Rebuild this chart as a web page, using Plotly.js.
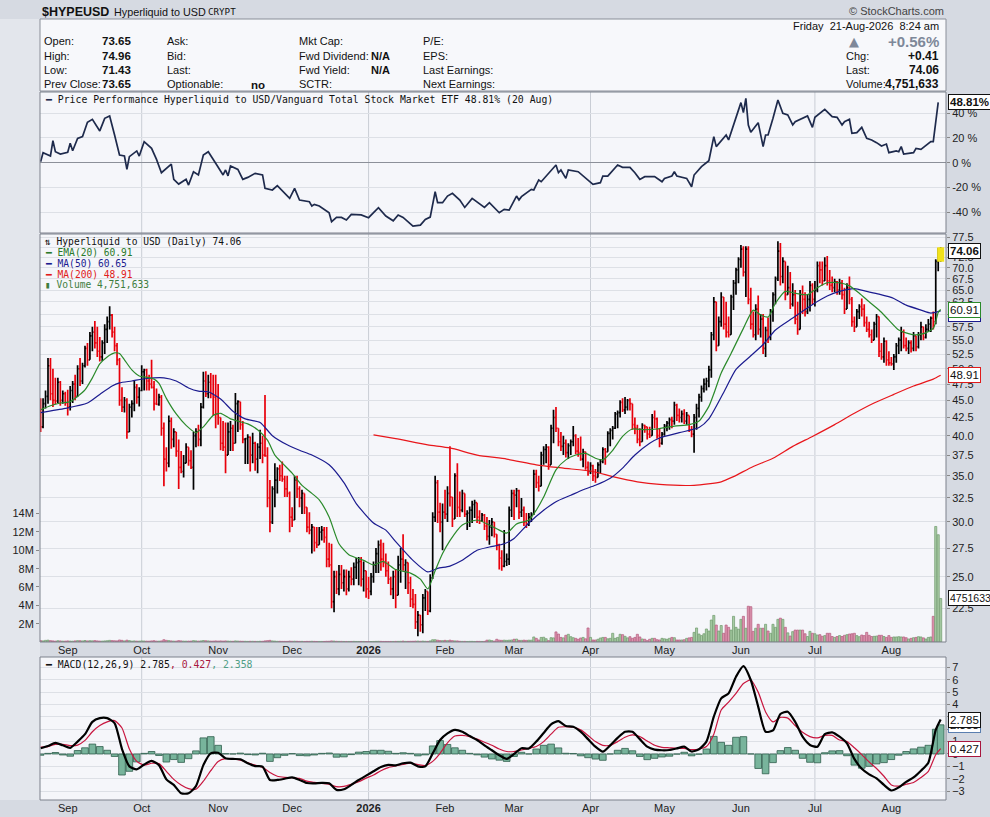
<!DOCTYPE html>
<html><head><meta charset="utf-8">
<script src="https://cdn.plot.ly/plotly-3.0.1.min.js"></script>
<style>html,body{margin:0;padding:0;background:#d6dae2;}#chart{width:990px;height:817px;}</style>
</head><body><div id="chart"></div>
<script>
// ---------------- DATA (daily bars from 21-Aug-2025, index = day offset) ----------------
const openP = [
44.0,41.2,44.5,45.6,50.5,46.0,45.0,44.9,47.8,45.0,
46.0,44.6,44.0,46.5,47.5,45.6,50.0,48.0,50.5,53.5,
51.5,55.8,56.5,54.5,53.0,52.0,54.5,57.0,58.5,59.8,
56.5,54.0,51.5,45.0,44.0,45.0,40.5,44.0,44.5,47.0,
45.5,46.5,49.5,49.8,48.0,47.5,47.0,44.5,44.4,45.5,
41.0,37.0,36.5,42.0,39.5,40.5,38.0,36.0,35.5,36.5,
38.5,36.8,36.0,40.0,40.5,39.5,44.0,48.0,46.0,47.8,
46.0,45.5,43.0,42.5,39.0,38.5,37.5,40.5,41.0,39.0,
44.5,44.8,41.5,39.5,39.6,39.8,37.5,39.0,37.0,38.5,
39.0,37.5,37.4,32.5,30.0,33.5,34.5,35.8,35.0,34.6,
33.5,33.0,30.5,30.2,34.5,33.5,32.5,33.0,31.5,29.5,
29.2,29.5,28.0,27.8,29.0,29.2,28.5,26.5,26.0,23.0,
25.0,24.0,25.2,24.5,25.0,24.0,25.0,24.8,25.8,26.2,
26.3,24.8,25.5,24.0,23.8,25.0,26.0,27.0,27.8,26.5,
26.2,25.5,24.8,24.0,25.0,23.5,26.0,26.5,26.0,26.2,
24.5,23.2,22.8,21.5,22.0,21.3,23.3,23.8,22.3,24.9,
30.5,34.2,31.0,30.0,31.0,30.8,33.0,32.6,30.3,35.0,
31.5,31.2,33.0,30.8,30.9,31.2,31.8,32.0,30.5,30.1,
30.7,29.6,28.6,29.5,30.0,28.8,27.8,26.6,25.9,26.3,
26.5,31.2,33.0,32.8,33.3,31.0,31.2,30.0,29.8,30.5,
30.8,35.2,34.2,33.8,37.5,38.2,38.5,36.3,41.0,42.5,
41.0,39.2,38.6,39.0,37.8,38.7,39.2,40.0,38.0,37.8,
37.0,37.9,36.0,35.5,36.2,35.0,34.8,36.3,36.7,38.2,
37.9,40.3,40.7,41.0,43.0,43.2,44.7,43.6,44.0,45.0,
44.5,41.5,41.0,39.5,39.2,41.4,41.2,40.2,40.0,42.5,
42.3,40.0,39.0,40.2,41.3,41.7,42.2,42.0,44.3,42.8,
42.5,43.0,42.0,42.8,40.8,40.2,42.5,43.8,45.5,46.8,
47.5,48.0,49.8,56.0,62.5,54.0,58.5,63.5,58.0,56.5,
56.0,63.5,66.5,69.5,72.0,74.5,69.0,74.5,63.0,58.0,
56.0,61.0,57.0,59.0,53.5,56.8,55.5,60.5,64.0,67.5,
74.0,68.0,71.5,64.0,65.5,62.0,64.0,59.0,57.0,64.0,
63.0,60.5,63.0,66.0,63.0,65.0,70.5,69.5,67.0,70.5,
67.0,66.0,65.5,66.8,65.0,66.5,64.0,61.0,65.5,63.0,
58.5,57.5,60.5,61.5,61.0,58.3,57.0,56.0,55.0,58.0,
59.5,53.0,52.0,54.8,51.5,51.0,50.8,52.0,54.0,55.0,
56.5,54.0,53.5,54.5,53.5,55.8,53.8,56.0,57.5,55.5,
57.0,58.0,59.2,58.5,71.5,73.65];
const highP = [
45.3,45.3,46.5,51.8,51.8,50.0,48.5,48.5,48.0,46.5,
46.3,46.6,47.2,48.0,49.0,50.6,51.8,51.0,54.0,54.5,
56.5,57.5,58.6,57.5,55.6,55.0,58.0,59.5,61.6,60.0,
57.5,54.5,51.8,47.0,45.5,45.3,44.5,45.0,48.0,47.5,
47.0,50.6,50.0,50.0,49.0,51.5,48.0,46.8,46.0,45.8,
41.8,38.5,42.8,42.5,41.0,40.5,39.5,38.0,37.5,39.0,
38.5,38.1,40.5,41.0,41.5,44.6,49.5,49.6,49.0,49.3,
49.0,49.0,47.5,42.5,42.0,41.8,41.8,42.0,41.5,46.1,
45.0,44.8,42.0,39.7,40.2,39.9,40.4,39.2,39.0,40.8,
40.0,45.8,38.5,34.5,33.8,36.5,36.0,36.3,36.7,35.0,
35.0,33.2,31.5,35.0,35.0,33.8,33.4,33.0,31.5,31.0,
29.8,29.5,29.5,29.5,29.6,29.5,29.5,28.0,27.9,25.5,
25.5,26.0,26.0,25.6,25.6,25.5,25.8,26.2,26.6,26.7,
26.7,26.3,25.5,25.0,25.3,26.3,27.5,28.2,28.3,28.0,
27.0,26.3,25.0,25.5,25.6,26.8,27.5,28.8,26.5,26.2,
25.0,24.0,23.6,22.3,22.0,23.6,24.0,23.8,25.2,31.0,
35.0,34.5,32.0,31.9,33.4,33.8,38.6,32.6,35.3,36.5,
33.2,33.4,33.0,31.2,31.6,32.2,32.3,32.0,31.2,30.9,
30.8,30.5,30.2,30.4,30.0,28.8,27.9,27.3,29.2,27.0,
31.6,33.4,33.4,33.6,33.4,32.5,31.6,30.9,30.9,31.0,
35.7,35.7,35.0,37.9,38.6,38.9,38.6,41.5,43.6,44.0,
41.0,40.5,40.0,39.5,39.0,39.5,41.3,40.2,39.7,39.9,
38.3,37.9,36.7,36.6,36.3,35.8,36.6,37.0,38.5,38.4,
40.6,41.0,41.3,43.3,43.5,45.0,45.3,45.5,45.2,45.3,
44.5,42.5,41.5,41.0,41.7,41.5,41.2,41.2,43.0,43.5,
42.5,41.0,40.5,41.6,42.0,42.5,42.6,44.8,44.5,43.8,
43.5,43.7,43.3,42.8,41.3,43.0,44.5,46.0,47.3,48.4,
48.5,50.5,56.5,63.5,62.5,59.5,64.5,63.5,62.5,59.5,
64.0,67.2,70.0,72.5,75.5,75.2,75.2,75.2,65.5,60.5,
62.0,63.8,60.0,60.0,57.5,59.3,61.0,64.5,68.0,76.5,
76.0,72.5,71.5,70.5,69.0,66.5,65.0,62.5,65.0,66.0,
64.5,64.0,67.0,66.5,67.0,71.5,71.5,71.5,72.5,72.8,
69.5,68.0,67.5,67.0,67.5,67.2,65.5,66.5,68.0,63.5,
59.5,61.0,62.0,63.2,62.0,59.5,58.5,57.0,58.5,60.0,
59.5,54.5,55.5,55.0,53.0,52.0,52.5,54.5,55.5,57.5,
57.0,55.5,55.0,55.0,56.5,55.8,56.5,58.5,57.5,58.0,
59.0,59.5,60.5,72.0,74.8,74.96];
const lowP = [
40.5,41.0,43.8,44.5,45.0,44.0,44.4,44.6,44.2,44.5,
44.2,42.8,43.5,44.6,45.0,45.5,47.2,47.5,50.2,50.5,
51.5,53.0,53.5,52.0,51.2,51.3,52.5,54.5,57.0,55.5,
53.0,50.6,44.2,43.3,43.2,39.6,40.5,42.5,43.4,44.5,
44.1,46.4,46.5,46.5,46.5,46.8,43.5,44.3,44.2,40.0,
33.8,35.5,36.0,38.3,38.5,37.3,33.5,35.3,34.8,36.5,
36.2,35.8,33.4,38.5,38.6,38.6,43.8,45.5,45.3,45.3,
42.8,41.0,41.5,38.1,38.0,35.3,37.5,38.0,38.0,39.0,
40.5,40.8,39.0,36.4,36.4,35.5,36.5,35.6,35.3,37.0,
36.5,37.3,31.5,29.0,29.8,31.5,33.0,34.4,34.3,32.6,
32.6,29.0,29.5,30.2,32.5,31.5,30.8,30.8,29.0,28.8,
27.0,27.2,27.5,27.8,28.2,28.0,25.8,25.8,22.5,22.2,
23.6,23.5,24.0,23.8,23.5,23.8,24.3,24.3,24.8,24.3,
24.2,23.8,23.3,23.2,23.5,24.5,25.3,25.3,25.5,25.8,
25.0,24.4,23.5,23.2,22.5,23.5,24.5,25.5,24.0,23.6,
22.6,22.5,21.0,20.5,20.8,20.7,22.3,22.0,22.2,24.8,
30.0,29.9,29.0,27.3,30.3,30.0,31.6,29.5,30.3,30.5,
30.5,31.0,30.5,29.2,29.5,29.9,30.4,29.9,29.8,30.0,
29.2,28.2,27.8,28.6,28.5,27.3,25.6,25.5,25.8,25.9,
26.0,30.5,30.2,31.5,30.3,30.5,29.6,29.4,29.6,30.0,
30.7,33.6,33.2,33.8,36.3,36.5,35.7,36.3,39.0,40.5,
38.6,38.0,37.5,37.2,37.0,37.5,38.6,37.6,37.3,36.8,
36.0,35.7,35.0,35.2,34.4,34.2,34.8,35.3,36.5,36.3,
37.9,38.6,39.5,40.9,41.0,42.5,43.3,43.0,43.5,43.5,
40.8,40.2,39.0,38.6,39.2,40.4,39.5,39.7,40.0,41.0,
39.6,38.5,38.8,40.0,40.6,40.8,41.0,41.5,42.0,41.8,
41.8,41.6,41.5,40.5,39.8,37.8,40.8,42.5,44.8,46.2,
46.5,47.0,48.5,55.0,53.0,54.0,57.5,57.0,55.5,55.5,
56.0,60.8,64.0,66.5,70.0,68.0,63.5,62.0,57.0,55.5,
55.0,56.0,55.5,52.5,52.0,54.5,55.0,58.5,62.0,67.0,
66.0,66.5,62.8,64.0,61.0,61.5,58.0,56.0,57.0,60.0,
59.5,60.0,60.5,62.0,61.5,64.5,66.5,66.0,67.0,66.0,
65.0,64.5,64.5,64.0,64.0,63.0,60.0,61.0,62.0,57.5,
56.5,57.5,59.0,59.5,57.5,56.5,55.5,54.5,55.0,55.5,
52.0,51.5,51.0,50.5,50.5,50.5,49.8,51.0,52.5,53.0,
53.5,53.0,52.5,52.8,53.0,53.0,53.5,55.0,55.0,55.3,
56.5,56.5,57.0,58.0,69.2,71.43];
const closeP = [
41.2,44.5,45.6,50.5,46.0,45.0,44.9,47.8,45.0,46.0,
44.6,44.0,46.5,47.5,45.6,50.0,48.0,50.5,53.5,51.5,
55.8,56.5,54.5,53.0,52.0,54.5,57.0,58.5,59.8,56.5,
54.0,51.5,45.0,44.0,45.0,40.5,44.0,44.5,47.0,45.5,
46.5,49.5,49.8,48.0,47.5,47.0,44.5,44.4,45.5,41.0,
37.0,36.5,42.0,39.5,40.5,38.0,36.0,35.5,36.5,38.5,
36.8,36.0,40.0,40.5,39.5,44.0,48.0,46.0,47.8,46.0,
45.5,43.0,42.5,39.0,38.5,37.5,40.5,41.0,39.0,44.5,
44.8,41.5,39.5,39.6,39.8,37.5,39.0,37.0,38.5,39.0,
37.5,37.4,32.5,30.0,33.5,34.5,35.8,35.0,34.6,33.5,
33.0,30.5,30.2,34.5,33.5,32.5,33.0,31.5,29.5,29.2,
29.5,28.0,27.8,29.0,29.2,28.5,26.5,26.0,23.0,25.0,
24.0,25.2,24.5,25.0,24.0,25.0,24.8,25.8,26.2,26.3,
24.8,25.5,24.0,23.8,25.0,26.0,27.0,27.8,26.5,26.2,
25.5,24.8,24.0,25.0,23.5,26.0,26.5,26.0,26.2,24.5,
23.2,22.8,21.5,22.0,21.3,23.3,23.8,22.3,24.9,30.5,
34.2,31.0,30.0,31.0,30.8,33.0,32.6,30.3,35.0,31.5,
31.2,33.0,30.8,30.9,31.2,31.8,32.0,30.5,30.1,30.7,
29.6,28.6,29.5,30.0,28.8,27.8,26.6,25.9,26.3,26.5,
31.2,33.0,32.8,33.3,31.0,31.2,30.0,29.8,30.5,30.8,
35.2,34.2,33.8,37.5,38.2,38.5,36.3,41.0,42.5,41.0,
39.2,38.6,39.0,37.8,38.7,39.2,40.0,38.0,37.8,37.0,
37.9,36.0,35.5,36.2,35.0,34.8,36.3,36.7,38.2,37.9,
40.3,40.7,41.0,43.0,43.2,44.7,43.6,44.0,45.0,44.5,
41.5,41.0,39.5,39.2,41.4,41.2,40.2,40.0,42.5,42.3,
40.0,39.0,40.2,41.3,41.7,42.2,42.0,44.3,42.8,42.5,
43.0,42.0,42.8,40.8,40.2,42.5,43.8,45.5,46.8,47.5,
48.0,49.8,56.0,62.5,54.0,58.5,63.5,58.0,56.5,56.0,
63.5,66.5,69.5,72.0,74.5,69.0,74.5,63.0,58.0,56.0,
61.0,57.0,59.0,53.5,56.8,55.5,60.5,64.0,67.5,74.0,
68.0,71.5,64.0,65.5,62.0,64.0,59.0,57.0,64.0,63.0,
60.5,63.0,66.0,63.0,65.0,70.5,69.5,67.0,70.5,67.0,
66.0,65.5,66.8,65.0,66.5,64.0,61.0,65.5,63.0,58.5,
57.5,60.5,61.5,61.0,58.3,57.0,56.0,55.0,58.0,59.5,
53.0,52.0,54.8,51.5,51.0,50.8,52.0,54.0,55.0,56.5,
54.0,53.5,54.5,53.5,55.8,53.8,56.0,57.5,55.5,57.0,
58.0,59.2,58.5,71.5,73.65,74.06];
// volume in millions
const volumeM = [
0.15,0.12,0.18,0.2,0.15,0.12,0.1,0.14,0.12,0.1,
0.1,0.12,0.1,0.09,0.12,0.15,0.14,0.12,0.16,0.12,
0.14,0.13,0.15,0.12,0.1,0.1,0.12,0.14,0.18,0.15,
0.14,0.12,0.22,0.18,0.12,0.2,0.15,0.1,0.12,0.1,
0.1,0.12,0.11,0.1,0.09,0.12,0.14,0.1,0.09,0.12,
0.25,0.18,0.15,0.12,0.1,0.1,0.15,0.12,0.1,0.09,
0.1,0.1,0.15,0.12,0.1,0.12,0.16,0.14,0.12,0.1,
0.1,0.12,0.1,0.12,0.1,0.12,0.1,0.09,0.08,0.12,
0.1,0.09,0.08,0.08,0.07,0.08,0.08,0.07,0.07,0.08,
0.08,0.12,0.15,0.18,0.12,0.1,0.08,0.08,0.07,0.07,
0.07,0.1,0.08,0.09,0.08,0.07,0.07,0.06,0.07,0.07,
0.08,0.07,0.06,0.06,0.06,0.06,0.08,0.08,0.12,0.1,
0.08,0.07,0.07,0.06,0.06,0.06,0.06,0.07,0.06,0.06,
0.06,0.06,0.05,0.05,0.05,0.06,0.07,0.08,0.07,0.06,
0.06,0.06,0.06,0.06,0.07,0.07,0.08,0.1,0.07,0.07,
0.08,0.08,0.1,0.1,0.08,0.1,0.08,0.07,0.12,0.25,
0.25,0.2,0.15,0.15,0.18,0.15,0.2,0.15,0.12,0.12,
0.08,0.07,0.07,0.06,0.07,0.07,0.06,0.07,0.07,0.06,
0.07,0.2,0.22,0.15,0.1,0.3,0.2,0.18,0.2,0.18,
0.2,0.22,0.3,0.32,0.18,0.18,0.2,0.18,0.2,0.2,
0.55,0.4,0.22,0.5,0.52,0.36,0.15,0.47,0.45,1.1,
0.87,0.5,0.45,0.73,0.84,0.58,0.47,0.4,0.3,0.44,
0.5,0.35,1.53,0.5,0.22,0.22,0.3,0.44,0.5,0.5,
0.35,0.4,0.95,0.4,0.5,0.84,0.8,0.62,0.45,0.58,
0.4,0.5,0.84,0.55,0.33,0.3,0.15,0.3,0.4,0.4,
0.25,0.22,0.4,0.35,0.3,0.4,0.5,0.47,0.22,0.22,
0.22,0.25,0.4,0.45,0.5,1.05,1.53,0.87,0.7,0.9,
1.42,1.2,2.4,2.9,1.85,1.2,1.8,0.95,1.85,1.6,
1.3,2.8,1.6,1.4,2.47,2.8,1.5,3.9,3.85,1.16,
1.5,1.93,1.5,1.5,1.93,1.2,0.95,1.93,1.6,2.47,
2.6,2.47,1.6,1.0,0.65,1.13,1.3,1.3,1.3,1.3,
0.9,0.6,1.16,0.95,0.9,0.76,0.8,0.62,0.7,0.95,
0.95,0.6,0.5,0.6,0.7,0.6,0.73,0.8,0.87,0.9,
0.95,0.7,0.58,0.76,0.7,1.05,0.73,0.6,0.62,0.65,
0.73,0.73,0.6,0.5,0.7,0.5,0.55,0.55,0.58,0.55,
0.55,0.47,0.33,0.4,0.47,0.5,0.58,0.55,0.45,0.33,
0.5,0.55,2.8,12.6,11.7,4.75];

// [day offset, value] samples
const ema20Points = [[0,43.6],[4,44.2],[8,44.6],[12,44.8],[15,45.6],[18,46.6],[21,48.5],[24,50.8],[27,52.0],[30,52.7],[32,52.6],[34,51.5],[37,49.8],[40,48.8],[43,48.6],[46,48.3],[48,47.6],[51,45.3],[55,43.0],[59,41.4],[63,40.4],[66,41.2],[70,42.8],[73,43.1],[77,42.3],[81,41.9],[84,41.6],[88,40.8],[92,39.4],[95,37.5],[98,36.5],[102,35.3],[106,33.9],[110,33.0],[113,32.3],[117,30.5],[121,27.9],[125,26.9],[131,26.4],[135,26.0],[139,26.3],[144,25.6],[150,25.3],[154,24.8],[157,24.0],[160,25.5],[163,27.0],[166,28.2],[171,29.7],[177,30.2],[182,29.7],[186,29.2],[189,28.9],[193,29.8],[198,30.2],[201,31.2],[204,32.6],[209,35.7],[213,36.9],[217,37.5],[221,37.7],[225,37.1],[228,36.9],[232,38.1],[236,39.9],[240,40.9],[245,40.8],[250,40.9],[257,41.3],[263,41.5],[267,42.0],[271,44.1],[273,46.0],[276,49.3],[280,52.6],[285,57.2],[289,60.8],[292,59.8],[295,59.4],[298,62.2],[302,64.7],[306,64.3],[311,64.0],[315,65.5],[319,66.6],[324,66.6],[328,65.9],[332,64.3],[336,62.5],[340,60.8],[344,58.8],[348,56.9],[354,56.0],[358,56.2],[362,57.2],[364,60.3],[365,60.91]];
const ma50Points = [[0,43.2],[10,43.8],[19,44.6],[24,45.9],[29,47.2],[32,47.7],[37,48.0],[43,48.4],[50,48.5],[55,48.0],[60,46.9],[64,46.4],[68,46.3],[73,45.2],[78,43.4],[83,42.3],[89,41.8],[94,40.0],[100,38.8],[105,38.1],[110,37.5],[117,36.3],[123,34.2],[128,31.9],[135,29.9],[140,29.2],[144,28.1],[151,26.4],[157,25.4],[161,25.7],[166,25.9],[171,26.4],[177,27.3],[182,27.6],[188,27.9],[192,28.4],[198,29.9],[204,31.2],[209,32.1],[215,32.8],[220,33.4],[225,33.9],[231,34.7],[236,35.9],[241,37.5],[247,39.0],[251,39.7],[259,40.4],[267,41.1],[271,42.3],[277,46.2],[282,49.9],[288,52.2],[293,54.2],[298,56.9],[305,59.2],[312,61.6],[319,63.7],[324,64.7],[330,65.3],[335,64.7],[340,64.1],[346,63.2],[351,61.8],[357,60.8],[361,60.2],[365,60.65]];
const ma200Points = [[135,40.1],[144,39.6],[157,38.8],[166,38.4],[177,37.5],[189,37.0],[201,36.3],[212,35.9],[224,35.5],[232,34.9],[242,34.3],[251,34.0],[265,33.9],[276,34.3],[281,34.9],[289,36.1],[297,37.1],[305,38.6],[313,39.9],[322,41.5],[330,43.1],[338,44.6],[346,45.9],[354,47.2],[362,48.3],[365,48.91]];
const perfPoints = [[0,0.8],[1,8.1],[4,5.4],[5,17.8],[6,8.9],[8,7.0],[11,8.4],[12,15.7],[13,9.7],[15,19.7],[17,21.1],[19,32.7],[21,35.1],[24,25.7],[26,35.9],[28,37.8],[30,22.4],[32,6.2],[34,5.4],[35,-5.4],[36,4.9],[39,9.5],[40,5.4],[42,17.0],[45,11.6],[46,7.0],[47,2.7],[49,-8.1],[53,-1.1],[54,-13.5],[56,-17.3],[59,-13.5],[60,-18.1],[62,-7.3],[64,-9.9],[66,6.2],[68,8.9],[71,-0.5],[74,-9.9],[75,-5.9],[76,-10.7],[77,-2.7],[80,-5.4],[82,-13.5],[84,-11.9],[87,-8.6],[90,-9.9],[91,-20.8],[94,-22.1],[96,-18.6],[101,-28.9],[103,-20.8],[105,-30.2],[109,-31.6],[110,-35.1],[111,-33.7],[113,-35.1],[117,-40.5],[118,-47.8],[120,-44.3],[122,-44.3],[124,-46.4],[126,-41.8],[130,-42.3],[133,-44.5],[137,-36.4],[140,-43.2],[143,-47.0],[145,-42.3],[147,-44.3],[151,-51.3],[154,-50.5],[156,-46.0],[158,-44.0],[159,-33.5],[160,-23.5],[161,-32.4],[163,-32.4],[165,-27.0],[167,-24.8],[170,-30.2],[172,-36.2],[175,-28.9],[179,-34.3],[180,-36.2],[182,-32.4],[186,-40.5],[188,-37.8],[190,-38.4],[193,-27.0],[194,-30.2],[195,-27.5],[199,-21.6],[200,-22.1],[202,-14.0],[203,-15.4],[207,-6.4],[209,-1.9],[210,-8.1],[211,-5.9],[213,-12.7],[214,-5.9],[218,-7.3],[220,-10.8],[224,-17.5],[227,-16.2],[228,-10.8],[230,-10.8],[232,-5.9],[234,-1.9],[236,-3.8],[239,-3.8],[241,-8.1],[243,-13.5],[245,-11.3],[249,-11.3],[251,-14.0],[252,-15.4],[253,-12.7],[256,-10.8],[257,-7.3],[258,-10.8],[262,-12.7],[264,-19.5],[265,-10.0],[268,-3.2],[271,1.6],[272,12.0],[273,21.1],[274,13.0],[278,22.4],[279,18.4],[281,30.5],[284,48.6],[285,40.5],[286,52.1],[287,30.5],[288,24.6],[291,32.4],[292,21.1],[293,13.0],[294,22.4],[295,22.4],[297,35.9],[299,50.7],[301,40.0],[303,38.6],[305,30.5],[306,33.2],[311,37.8],[313,28.6],[314,36.7],[318,43.2],[321,37.3],[323,36.7],[325,30.5],[326,33.2],[328,35.1],[329,23.8],[331,24.3],[333,28.6],[335,19.7],[337,18.4],[339,16.2],[341,13.5],[343,15.1],[344,8.1],[347,9.5],[348,8.9],[349,13.0],[350,7.0],[354,8.1],[355,11.6],[357,10.8],[360,15.1],[361,17.0],[362,17.0],[363,34.0],[364,48.81]];

const macdDays = [0,3,6,9,12,15,18,21,24,27,30,33,36,39,42,45,48,51,54,57,60,63,66,69,72,75,78,81,84,87,90,93,96,99,102,105,108,111,114,117,120,123,126,129,132,135,138,141,144,147,150,153,156,159,162,165,168,171,174,177,180,183,186,189,192,195,198,201,204,207,210,213,216,219,222,225,228,231,234,237,240,243,246,249,252,255,258,261,264,267,270,273,276,279,282,285,288,291,294,297,300,303,306,309,312,315,318,321,324,327,330,333,336,339,342,345,348,351,354,357,360,363,365];
const macdLine = [0.46,0.65,0.90,0.70,0.50,1.00,1.60,2.60,2.90,2.90,
2.50,0.40,-1.00,-1.24,-0.85,-0.55,-0.90,-2.05,-2.50,-3.18,
-3.18,-2.60,-0.90,0.05,0.10,-0.35,-0.40,-0.43,-0.75,-0.98,
-1.02,-2.10,-2.10,-2.00,-1.89,-2.10,-2.35,-2.38,-2.33,-2.37,
-2.90,-2.85,-2.50,-2.10,-1.75,-1.40,-1.05,-0.88,-0.92,-0.75,
-0.70,-1.00,-1.00,0.05,1.13,1.67,1.95,1.80,1.45,1.13,
0.70,0.30,-0.10,-0.40,0.00,0.46,0.45,1.00,1.70,2.40,
2.65,2.26,2.20,1.80,1.20,0.59,0.19,0.70,1.30,1.80,
1.80,1.20,0.59,0.35,0.30,0.32,0.45,0.59,0.20,0.38,
1.00,3.02,4.50,4.90,6.25,7.10,5.98,3.83,1.80,1.90,
3.23,3.42,2.60,1.40,0.73,0.59,1.60,1.75,1.40,0.86,
-0.40,-1.20,-1.65,-1.97,-2.50,-2.95,-2.70,-2.25,-1.89,-1.35,
-0.70,1.94,2.785];
const signalLine = [0.56,0.60,0.78,0.78,0.68,0.72,1.10,1.80,2.30,2.60,
2.70,2.10,0.40,-0.60,-0.90,-0.75,-0.78,-1.40,-2.05,-2.50,
-2.80,-2.85,-2.20,-1.35,-0.60,-0.37,-0.40,-0.50,-0.70,-0.90,
-1.08,-1.50,-1.80,-1.89,-1.92,-1.97,-2.20,-2.30,-2.38,-2.45,
-2.64,-2.62,-2.45,-2.25,-1.95,-1.70,-1.35,-1.10,-0.97,-0.85,
-0.75,-0.85,-0.93,-0.60,0.05,0.90,1.45,1.50,1.40,1.20,
0.95,0.70,0.40,0.20,0.20,0.32,0.45,0.60,1.00,1.60,
2.16,2.20,2.16,1.95,1.50,1.00,0.70,0.70,1.00,1.35,
1.54,1.40,1.05,0.70,0.54,0.50,0.46,0.45,0.35,0.40,
0.60,1.60,3.56,4.20,4.90,5.70,5.98,5.00,3.40,2.60,
2.96,2.90,2.30,1.75,1.40,1.30,1.50,1.50,1.13,1.00,
0.50,-0.05,-0.65,-1.17,-1.80,-2.50,-2.60,-2.45,-2.30,-1.90,
-1.40,-0.06,0.427];
const histogram = [-0.10,0.05,0.12,-0.08,-0.18,0.28,0.50,0.80,0.60,0.30,
-0.20,-1.70,-1.40,-0.64,0.05,0.20,-0.12,-0.65,-0.45,-0.68,
-0.38,0.25,1.30,1.40,0.70,0.02,0.00,0.07,-0.05,-0.08,
0.06,-0.60,-0.30,-0.11,0.03,-0.13,-0.15,-0.08,0.05,0.08,
-0.26,-0.23,-0.05,0.15,0.20,0.30,0.30,0.22,0.05,0.10,
0.05,-0.15,-0.07,0.65,1.08,0.77,0.50,0.30,0.05,-0.07,
-0.25,-0.40,-0.50,-0.60,-0.20,0.14,0.00,0.40,0.70,0.80,
0.49,0.06,0.04,-0.15,-0.30,-0.41,-0.51,0.00,0.30,0.45,
0.26,-0.20,-0.46,-0.35,-0.24,-0.18,-0.01,0.14,-0.15,-0.02,
0.40,1.42,0.94,0.70,1.35,1.40,0.00,-1.17,-1.60,-0.70,
0.27,0.52,0.30,-0.35,-0.67,-0.71,0.10,0.25,0.27,-0.14,
-0.90,-1.15,-1.00,-0.80,-0.70,-0.45,-0.10,0.20,0.41,0.55,
0.70,2.00,2.358];

const monthTickDates = ['2025-09-01','2025-10-01','2025-11-01','2025-12-01','2026-01-01','2026-02-01','2026-03-01','2026-04-01','2026-05-01','2026-06-01','2026-07-01','2026-08-01'];
const monthTickLabels = ['Sep','Oct','Nov','Dec','<b>2026</b>','Feb','Mar','Apr','May','Jun','Jul','Aug'];
const quarterDates = ['2025-10-01','2026-01-01','2026-04-01','2026-07-01'];
const priceTicks = [22.5,25,27.5,30,32.5,35,37.5,40,42.5,45,47.5,50,52.5,55,57.5,60,62.5,65,67.5,70,72.5,75,77.5];
const perfTicks = [-40,-20,0,20,40];
const volumeTicks = [2,4,6,8,10,12,14];
const macdTicks = [-3,-2,-1,0,1,2,3,4,5,6,7];

// ---------------- helpers ----------------
const START_UTC = Date.UTC(2025,7,21);
const DAY = 86400000;
function dayToDate(d){ return new Date(START_UTC + d*DAY).toISOString().slice(0,19).replace('T',' '); }
const W = 990, H = 817;
const px = x => x/W;
const py = y => 1 - y/H;
const L = 40, R = 946;
const P_PERF = [92,233], P_MAIN = [234,642], P_MACD = [657,800];

const dates = closeP.map((_,i)=>dayToDate(i));
const xRange = [dayToDate(-0.243), dayToDate(367.16)];
const isUp = closeP.map((c,i)=> i===0 ? c>=openP[0] : c>=closeP[i-1]);

const FONT = 'Liberation Sans, Arial, sans-serif';
const MONO = 'DejaVu Sans Mono, monospace';

// ---------------- traces ----------------
const traces = [];
traces.push({type:'scatter', mode:'lines', x: perfPoints.map(p=>dayToDate(p[0])), y: perfPoints.map(p=>p[1]),
  xaxis:'x', yaxis:'y', line:{color:'#1e2a4c', width:1.7}, hoverinfo:'skip'});
traces.push({type:'bar', x: dates, y: volumeM, xaxis:'x2', yaxis:'y2', width: DAY*0.85,
  marker:{color: isUp.map(u=>u?'#a8cca5':'#dd97b0'), line:{color: isUp.map(u=>u?'#6e9a6b':'#b55a7c'), width:0.7}}, hoverinfo:'skip'});
traces.push({type:'scatter', mode:'lines', x: ma200Points.map(p=>dayToDate(p[0])), y: ma200Points.map(p=>p[1]),
  xaxis:'x2', yaxis:'y3', line:{color:'#e8161b', width:1.2, shape:'spline', smoothing:0.6}, hoverinfo:'skip'});
traces.push({type:'scatter', mode:'lines', x: ma50Points.map(p=>dayToDate(p[0])), y: ma50Points.map(p=>p[1]),
  xaxis:'x2', yaxis:'y3', line:{color:'#1b1b8f', width:1.2, shape:'spline', smoothing:0.6}, hoverinfo:'skip'});
traces.push({type:'scatter', mode:'lines', x: ema20Points.map(p=>dayToDate(p[0])), y: ema20Points.map(p=>p[1]),
  xaxis:'x2', yaxis:'y3', line:{color:'#2a8a2a', width:1.2, shape:'spline', smoothing:0.6}, hoverinfo:'skip'});
const last = closeP.length-1;
traces.push({type:'scatter', mode:'lines', x:[dates[last],dates[last]], y:[lowP[last],highP[last]],
  xaxis:'x2', yaxis:'y3', line:{color:'#f2e21a', width:7}, hoverinfo:'skip'});
traces.push({type:'ohlc', x: dates, open: openP, high: highP, low: lowP, close: closeP, xaxis:'x2', yaxis:'y3',
  increasing:{line:{color:'#000000', width:1.7}}, decreasing:{line:{color:'#e8000b', width:1.7}}, tickwidth:0.45, hoverinfo:'skip'});
traces.push({type:'bar', x: macdDays.map(dayToDate), y: histogram, xaxis:'x3', yaxis:'y4', width: DAY*2.7,
  marker:{color:'#78b49c', line:{color:'#2f5e4c', width:0.8}}, hoverinfo:'skip'});
traces.push({type:'scatter', mode:'lines', x: macdDays.map(dayToDate), y: signalLine, xaxis:'x3', yaxis:'y4',
  line:{color:'#c8163f', width:1.2, shape:'spline', smoothing:0.6}, hoverinfo:'skip'});
traces.push({type:'scatter', mode:'lines', x: macdDays.map(dayToDate), y: macdLine, xaxis:'x3', yaxis:'y4',
  line:{color:'#000000', width:2.2, shape:'spline', smoothing:0.6}, hoverinfo:'skip'});

// ---------------- shapes ----------------
const shapes = [];
shapes.push({type:'rect', xref:'paper', yref:'paper', x0:0, x1:px(L), y0:py(800), y1:py(19), fillcolor:'#e3e6ec', line:{width:0}, layer:'below'});
shapes.push({type:'rect', xref:'paper', yref:'paper', x0:px(L), x1:px(R), y0:py(91), y1:py(19), fillcolor:'#f7f8fb', line:{color:'#8a8f99', width:1}, layer:'below'});
[['x',P_PERF],['x2',P_MAIN],['x3',P_MACD]].forEach(([xr,p])=>{
  quarterDates.forEach(d=>shapes.push({type:'line', xref:xr, yref:'paper', x0:d, x1:d, y0:py(p[1]), y1:py(p[0]), line:{color:'#c9cdd5', width:1}, layer:'below'}));
});
[P_PERF,P_MAIN,P_MACD].forEach(p=>shapes.push({type:'rect', xref:'paper', yref:'paper', x0:px(L), x1:px(R), y0:py(p[1]), y1:py(p[0]), line:{color:'#7c818c', width:1}, fillcolor:'rgba(0,0,0,0)', layer:'above'}));

// ---------------- annotations ----------------
const ann = [];
function txt(x,y,text,opts){ ann.push(Object.assign({xref:'paper', yref:'paper', x:px(x), y:py(y), text, showarrow:false, xanchor:'left', yanchor:'middle', font:{family:FONT, size:11, color:'#111'}}, opts||{})); }
txt(40,11.5,'<b>$HYPEUSD</b>',{font:{family:FONT,size:12.5,color:'#111'}});
txt(112,11.5,'Hyperliquid to USD',{font:{family:FONT,size:10.8,color:'#111'}});
txt(206,12,'CRYPT',{font:{family:MONO,size:9.2,color:'#111'}});
txt(946,11,'© StockCharts.com',{xanchor:'right', font:{family:FONT,size:11,color:'#444'}});
const rows = [41.5,55.5,69.5,84];
['Open:','High:','Low:','Prev Close:'].forEach((t,i)=>txt(42,rows[i],t));
['73.65','74.96','71.43','73.65'].forEach((t,i)=>txt(133,rows[i],'<b>'+t+'</b>',{xanchor:'right', font:{family:FONT,size:11.5,color:'#111'}}));
['Ask:','Bid:','Last:','Optionable:'].forEach((t,i)=>txt(165,rows[i],t));
txt(249,rows[3]+1,'<b>no</b>',{font:{family:FONT,size:11.5,color:'#111'}});
['Mkt Cap:','Fwd Dividend:','Fwd Yield:','SCTR:'].forEach((t,i)=>txt(297,rows[i],t));
txt(369,rows[1],'<b>N/A</b>',{font:{family:FONT,size:11,color:'#111'}});
txt(369,rows[2],'<b>N/A</b>',{font:{family:FONT,size:11,color:'#111'}});
['P/E:','EPS:','Last Earnings:','Next Earnings:'].forEach((t,i)=>txt(421,rows[i],t));
txt(941,26,'Friday&nbsp;&nbsp;21-Aug-2026&nbsp;&nbsp;8:24 am',{xanchor:'right'});
txt(854,41.5,'▲',{xanchor:'center', font:{family:'DejaVu Sans',size:13,color:'#7e8899'}});
txt(941,41.5,'<b>+0.56%</b>',{xanchor:'right', font:{family:FONT,size:15,color:'#7e8899'}});
txt(844,55.5,'Chg:'); txt(941,55.5,'<b>+0.41</b>',{xanchor:'right', font:{family:FONT,size:12,color:'#111'}});
txt(844,69.5,'Last:'); txt(941,69.5,'<b>74.06</b>',{xanchor:'right', font:{family:FONT,size:12,color:'#111'}});
txt(844,84,'Volume:'); txt(941,84,'<b>4,751,633</b>',{xanchor:'right', font:{family:FONT,size:12,color:'#111'}});

// legends
txt(43,99.5,'<span style="color:#1e2a4c">━</span> Price Performance Hyperliquid to USD/Vanguard Total Stock Market ETF 48.81% (20 Aug)',{font:{family:MONO,size:9.8,color:'#111'}});
txt(43,241.5,'⇅ Hyperliquid to USD (Daily) 74.06',{font:{family:MONO,size:9.6,color:'#111'}});
txt(43,252.5,'━ EMA(20) 60.91',{font:{family:MONO,size:9.6,color:'#2a7a2a'}});
txt(43,263.5,'━ MA(50) 60.65',{font:{family:MONO,size:9.6,color:'#1b1b8f'}});
txt(43,274.3,'━ MA(200) 48.91',{font:{family:MONO,size:9.6,color:'#e01b1b'}});
txt(43,284.5,'▮ Volume 4,751,633',{font:{family:MONO,size:9.6,color:'#3e7d3e'}});
txt(43,664.5,'━ MACD(12,26,9) 2.785<span style="color:#a8163e">, 0.427</span><span style="color:#4f9e86">, 2.358</span>',{font:{family:MONO,size:9.8,color:'#111'}});

// right value tags
function tag(yref,y,text,border,opts){ ann.push(Object.assign({xref:'paper', yref, x:px(948), y, text, showarrow:false, xanchor:'left', yanchor:'middle', bgcolor:'#ffffff', bordercolor:border, borderwidth:1, borderpad:1, font:{family:FONT,size:11.5,color:'#111'}}, opts||{})); }
tag('y',48.81,'<b>48.81%</b>','#111');
tag('y3',Math.log10(74.06),'<b>74.06</b>','#111');
tag('y3',Math.log10(60.65),'60.65','#1b1b8f',{yshift:-3});
tag('y3',Math.log10(60.91),'60.91','#2a8a2a');
tag('y3',Math.log10(48.91),'48.91','#e01b1b');
tag('y2',4.751633,'4751633','#111',{font:{family:FONT,size:10.5,color:'#111'}});
tag('y4',2.358,'2.358','#5b7fb0');
tag('y4',2.785,'2.785','#111');
tag('y4',0.427,'0.427','#a8163e');

// ---------------- layout ----------------
const axFont = {family:FONT, size:11, color:'#222'};
const xCommon = {type:'date', range:xRange, domain:[px(L),px(R)], showgrid:false, zeroline:false, fixedrange:true,
  tickvals: monthTickDates, ticktext: monthTickLabels, ticks:'', tickfont:axFont, showline:false};
const layout = {
  width:W, height:H, margin:{l:0,r:0,t:0,b:0},
  paper_bgcolor:'#d6dae2', plot_bgcolor:'#f5f6fa', showlegend:false, hovermode:false, dragmode:false,
  font:{family:FONT, size:11, color:'#222'}, bargap:0,
  xaxis: Object.assign({}, xCommon, {anchor:'y', showticklabels:false}),
  xaxis2: Object.assign({}, xCommon, {anchor:'y2', rangeslider:{visible:false}}),
  xaxis3: Object.assign({}, xCommon, {anchor:'y4'}),
  yaxis: {domain:[py(P_PERF[1]),py(P_PERF[0])], anchor:'x', range:[-56.9,57.2], side:'right', tickvals:perfTicks, ticktext:perfTicks.map(v=>v+' %'),
    ticks:'outside', ticklen:3, tickcolor:'#888', tickfont:axFont, showgrid:true, gridcolor:'#dde0e6', zeroline:true, zerolinecolor:'#8c9099', zerolinewidth:1, fixedrange:true},
  yaxis2: {domain:[py(P_MAIN[1]),py(P_MAIN[0])], anchor:'x2', range:[0,44.5], side:'left', tickvals:volumeTicks, ticktext:volumeTicks.map(v=>v+'M'),
    ticks:'outside', ticklen:3, tickcolor:'#888', tickfont:axFont, showgrid:false, zeroline:false, fixedrange:true},
  yaxis3: {overlaying:'y2', anchor:'x2', side:'right', type:'log', range:[1.3034,1.8940], tickvals:priceTicks, ticktext:priceTicks.map(v=>v.toFixed(1)),
    ticks:'outside', ticklen:3, tickcolor:'#888', tickfont:axFont, showgrid:true, gridcolor:'#dde0e6', zeroline:false, fixedrange:true},
  yaxis4: {domain:[py(P_MACD[1]),py(P_MACD[0])], anchor:'x3', range:[-3.72,7.84], side:'right', tickvals:macdTicks,
    ticks:'outside', ticklen:3, tickcolor:'#888', tickfont:axFont, showgrid:true, gridcolor:'#dde0e6', zeroline:false, fixedrange:true},
  shapes, annotations: ann
};
Plotly.newPlot('chart', traces, layout, {staticPlot:true, displayModeBar:false});
</script></body></html>
